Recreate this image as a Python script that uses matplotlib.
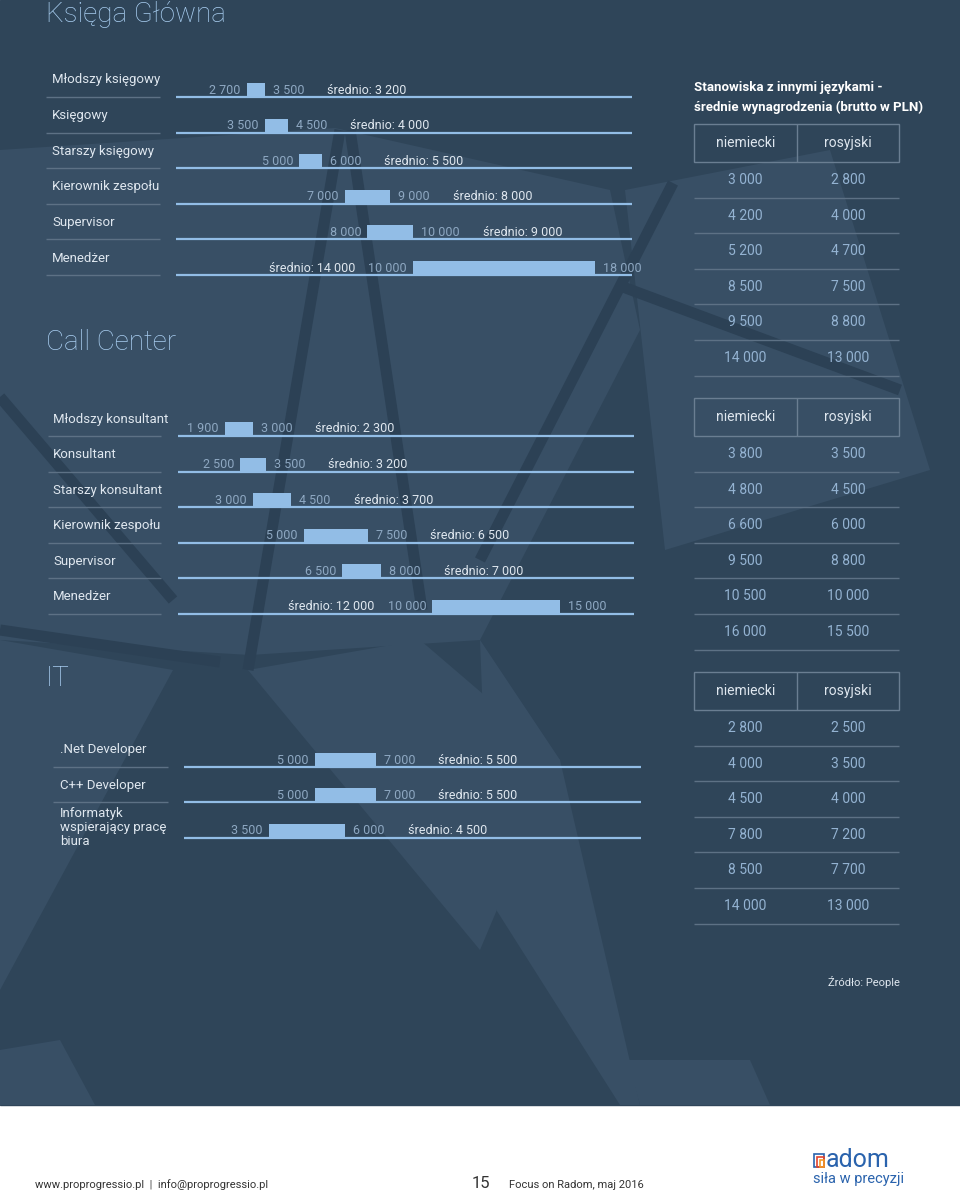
import matplotlib
matplotlib.use("Agg")
import matplotlib.pyplot as plt
from matplotlib.patches import Polygon, Rectangle

# dane - Księga Główna
kg_roles = ["Młodszy księgowy", "Księgowy", "Starszy księgowy",
            "Kierownik zespołu", "Supervisor", "Menedżer"]
kg_min = [2700, 3500, 5000, 7000, 8000, 10000]
kg_max = [3500, 4500, 6000, 9000, 10000, 18000]
kg_avg = [3200, 4000, 5500, 8000, 9000, 14000]
kg_de = [3000, 4200, 5200, 8500, 9500, 14000]
kg_ru = [2800, 4000, 4700, 7500, 8800, 13000]

# dane - Call Center
cc_roles = ["Młodszy konsultant", "Konsultant", "Starszy konsultant",
            "Kierownik zespołu", "Supervisor", "Menedżer"]
cc_min = [1900, 2500, 3000, 5000, 6500, 10000]
cc_max = [3000, 3500, 4500, 7500, 8000, 15000]
cc_avg = [2300, 3200, 3700, 6500, 7000, 12000]
cc_de = [3800, 4800, 6600, 9500, 10500, 16000]
cc_ru = [3500, 4500, 6000, 8800, 10000, 15500]

# dane - IT
it_roles = [".Net Developer", "C++ Developer", "Informatyk\nwspierający pracę\nbiura"]
it_min = [5000, 5000, 3500]
it_max = [7000, 7000, 6000]
it_avg = [5500, 5500, 4500]
it_de = [2800, 4000, 4500, 7800, 8500, 14000]
it_ru = [2500, 3500, 4000, 7200, 7700, 13000]

col_names = ["niemiecki", "rosyjski"]

# kolory
DARK = "#2f4559"
LIGHT = "#384f65"
STRIPE = "#2c4155"
BAR = "#92bde6"
NUM = "#8ea8c2"
TXT = "#dfe7ef"
SEP = "#5d7185"
HEAD = "#a8cdf0"
TVAL = "#94b3d2"

FONT = "Roboto"
plt.rcParams["font.family"] = [FONT, "DejaVu Sans"]

W, H = 960, 1193
fig = plt.figure(figsize=(9.6, 11.93), dpi=100)
fig.patch.set_facecolor("white")
bg = fig.add_axes([0, 0, 1, 1])
bg.set_xlim(0, W)
bg.set_ylim(H, 0)
bg.axis("off")

# tło z wielokątami
bg.add_patch(Rectangle((0, 0), W, 1105, color=DARK, zorder=0))
light_polys = [
    [(0, 150), (335, 128), (610, 190), (640, 330), (480, 640), (250, 655), (0, 640)],
    [(625, 190), (830, 150), (930, 470), (665, 550)],
    [(0, 640), (173, 670), (0, 990)],
    [(248, 670), (420, 640), (560, 760), (480, 950)],
    [(480, 640), (560, 760), (640, 1105), (620, 1105), (490, 900)],
    [(627, 1060), (750, 1060), (770, 1105), (640, 1105)],
    [(0, 1050), (60, 1040), (95, 1105), (0, 1105)],
]
for p in light_polys:
    bg.add_patch(Polygon(p, closed=True, color=LIGHT, zorder=0.5, lw=0))
stripes = [
    [(340, 130), (248, 670)],
    [(350, 130), (422, 610)],
    [(673, 183), (480, 560)],
    [(623, 287), (900, 390)],
    [(0, 397), (173, 600)],
    [(0, 630), (220, 662)],
]
for s in stripes:
    bg.plot([s[0][0], s[1][0]], [s[0][1], s[1][1]], color=STRIPE, lw=8,
            solid_capstyle="butt", zorder=0.6)


def fmt(v):
    return f"{v:,}".replace(",", " ")


def section(roles, mins, maxs, avgs, y0, step, lx0, lx1, text_x, sx0, sx1, a, b, n_sep):
    ax = fig.add_axes([0, 0, 1, 1])
    ax.set_xlim(-a / b, (W - a) / b)
    ax.set_ylim(H, 0)
    ax.axis("off")
    ys = [y0 + i * step for i in range(len(roles))]
    bg.hlines(ys, lx0, lx1, color=BAR, lw=1.6, zorder=2)
    bg.hlines(ys[:n_sep], sx0, sx1, color=SEP, lw=1.0, zorder=2)
    ax.barh([y - 14 for y in ys], [mx - mn for mn, mx in zip(mins, maxs)],
            left=mins, height=14, align="edge", color=BAR, zorder=3)
    for y, role, mn, mx, av in zip(ys, roles, mins, maxs, avgs):
        if "\n" in role:
            bg.text(text_x, y - 31, role, color=TXT, fontsize=9.5, va="top",
                    linespacing=1.13)
        else:
            bg.text(text_x, y - 17, role, color=TXT, fontsize=9.5, va="center")
        t1 = ax.annotate(fmt(mn), xy=(mn, y - 3.5), xytext=(-6, 0),
                         textcoords="offset pixels", ha="right", va="baseline",
                         color=NUM, fontsize=9)
        t2 = ax.annotate(fmt(mx), xy=(mx, y - 3.5), xytext=(8, 0),
                         textcoords="offset pixels", ha="left", va="baseline",
                         color=NUM, fontsize=9)
        if mx >= 15000:
            ax.annotate("średnio: " + fmt(av), xy=(0, 0), xycoords=t1,
                        xytext=(-13, 0), textcoords="offset pixels",
                        ha="right", va="bottom", color=TXT, fontsize=9)
        else:
            ax.annotate("średnio: " + fmt(av), xy=(1, 0), xycoords=t2,
                        xytext=(23, 0), textcoords="offset pixels",
                        ha="left", va="bottom", color=TXT, fontsize=9)


def table(de, ru, top):
    x0, x1, xm = 694, 899, 797
    bg.add_patch(Rectangle((x0, top), x1 - x0, 38, fill=False, ec="#6a7e92",
                           lw=1.0, zorder=2))
    bg.vlines(xm, top, top + 38, color="#6a7e92", lw=1.0, zorder=2)
    cx = [(x0 + xm) / 2, (xm + x1) / 2]
    for c, name in zip(cx, col_names):
        bg.text(c, top + 19, name, color=TXT, fontsize=10, ha="center",
                va="center")
    for i, (d, r) in enumerate(zip(de, ru)):
        y = top + 56 + i * 35.6
        bg.text(cx[0], y, fmt(d), color=TVAL, fontsize=10, ha="center",
                va="center")
        bg.text(cx[1], y, fmt(r), color=TVAL, fontsize=10, ha="center",
                va="center")
        bg.hlines(top + 73.5 + i * 35.6, x0, x1, color=SEP, lw=1.0, zorder=2)


# tytuły sekcji
for txt, y in [("Księga Główna", 14), ("Call Center", 342), ("IT", 679)]:
    bg.text(46, y, txt, color=HEAD, fontsize=20, va="center", fontweight="light")

bg.text(694, 88, "Stanowiska z innymi językami -", color="white",
        fontsize=9.5, fontweight="bold", va="center")
bg.text(694, 107, "średnie wynagrodzenia (brutto w PLN)", color="white",
        fontsize=9.5, fontweight="bold", va="center")

section(kg_roles, kg_min, kg_max, kg_avg, 97, 35.6, 176, 632, 52, 46, 160,
        185.2, 0.02278, 6)
section(cc_roles, cc_min, cc_max, cc_avg, 436, 35.6, 178, 634, 53, 48, 161,
        175.8, 0.02564, 6)
section(it_roles, it_min, it_max, it_avg, 767, 35.3, 184, 641, 60, 53, 168,
        162.0, 0.0305, 2)

table(kg_de, kg_ru, 124)
table(cc_de, cc_ru, 398)
table(it_de, it_ru, 672)

bg.text(900, 982, "Źródło: People", color=TXT, fontsize=8, ha="right",
        va="center")

# stopka
bg.text(35, 1185, "www.proprogressio.pl  |  info@proprogressio.pl", color="#333333",
        fontsize=8, va="center")
bg.text(472, 1184, "15", color="#333333", fontsize=12, va="center")
bg.text(509, 1185, "Focus on Radom, maj 2016", color="#333333", fontsize=8,
        va="center")
bg.text(826, 1160, "adom", color="#2a63ad", fontsize=18, va="center")
for k, c in enumerate(["#2a63ad", "#e0432f", "#f39a2a"]):
    bg.add_patch(Rectangle((814 + k * 3, 1154 + k * 3), 10 - k * 3, 13 - k * 3,
                           fill=False, ec=c, lw=1.2))
bg.text(813, 1179, "siła w precyzji", color="#2a63ad", fontsize=10.5,
        va="center")

fig.savefig("out.png", dpi=100)
